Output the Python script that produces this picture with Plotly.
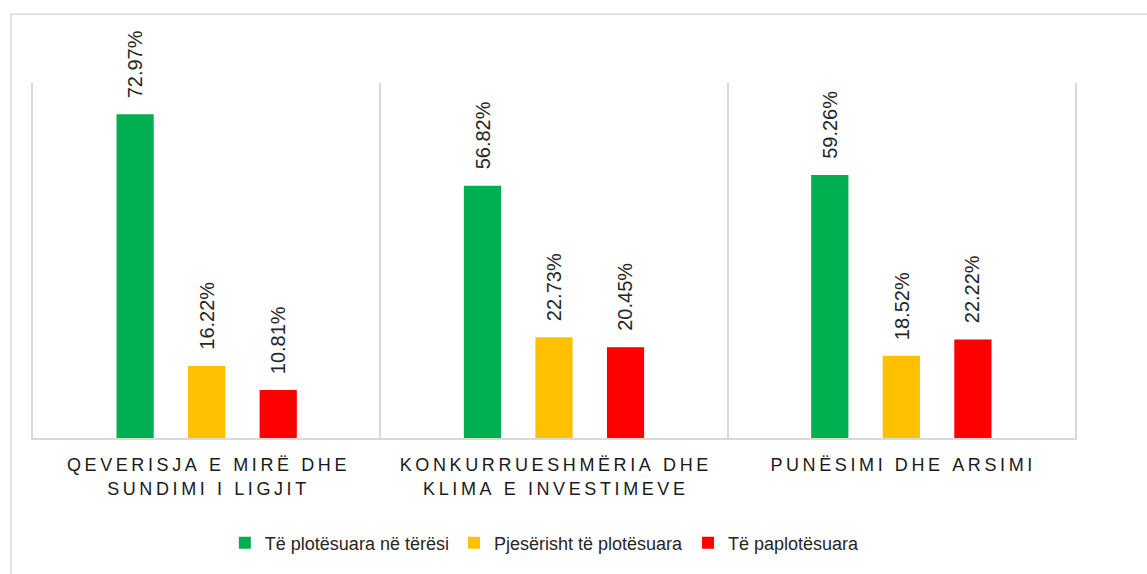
import plotly.graph_objects as go

categories = ["QEVERISJA E MIRË DHE<br>SUNDIMI I LIGJIT",
              "KONKURRUESHMËRIA DHE<br>KLIMA E INVESTIMEVE",
              "PUNËSIMI DHE ARSIMI"]
series_names = ["Të plotësuara në tërësi", "Pjesërisht të plotësuara", "Të paplotësuara"]
full_vals = [72.97, 56.82, 59.26]
partial_vals = [16.22, 22.73, 18.52]
none_vals = [10.81, 20.45, 22.22]
colors = ["#00B050", "#FFC000", "#FF0000"]

FONT = "Liberation Sans, Arial, sans-serif"
TS = "\u2009"


def spaced(label):
    lines = label.split("<br>")
    return "<br>".join(TS.join(list(l)) for l in lines)


tick_text = [spaced(c) for c in categories]

fig = go.Figure()
all_series = [full_vals, partial_vals, none_vals]
for name, vals, col in zip(series_names, all_series, colors):
    fig.add_trace(go.Bar(x=categories, y=vals, name=name, marker_color=col,
                         marker_line_width=0, offsetgroup=name))

# value labels (rotated, above bars)
for si, vals in enumerate(all_series):
    for ci, v in enumerate(vals):
        fig.add_annotation(x=ci, y=v, xref="x", yref="y",
                           text=f"{v:.2f}%", textangle=-90, showarrow=False,
                           xanchor="center", yanchor="bottom", yshift=14,
                           xshift=(si - 1) * 71.5,
                           font=dict(family=FONT, size=20, color="#262626"))

fig.update_layout(
    width=1147, height=574,
    margin=dict(l=33, r=72, t=83, b=136),
    paper_bgcolor="white", plot_bgcolor="white",
    barmode="group", bargap=0.382, bargroupgap=0.48,
    font=dict(family=FONT, size=18, color="#262626"),
    legend=dict(orientation="h", xref="container", yref="container",
                x=0.475, xanchor="center", y=0.054, yanchor="middle",
                font=dict(family=FONT, size=18, color="#262626"),
                itemwidth=30, tracegroupgap=0),
    xaxis=dict(type="category", tickmode="array", tickvals=categories,
               ticktext=tick_text, tickson="boundaries", showgrid=True,
               gridcolor="#D9D9D9", gridwidth=1.5, showline=True,
               linecolor="#D9D9D9", linewidth=1.5, ticks="",
               ticklabelstandoff=10,
               tickfont=dict(family=FONT, size=18, color="#1a1a1a"),
               range=[-0.5, 2.5]),
    yaxis=dict(range=[0, 80], showgrid=False, zeroline=False,
               showticklabels=False, ticks="", showline=True, mirror=True,
               linecolor="#D9D9D9", linewidth=1.5),
    showlegend=True,
)

# outer chart border (extends beyond the page edges as in the reference)
fig.add_shape(type="rect", xref="paper", yref="paper",
              x0=-0.0211, x1=1.2, y0=-0.5, y1=1.194,
              line=dict(color="#D9D9D9", width=1.5), layer="below")

fig.write_html("out.html")
